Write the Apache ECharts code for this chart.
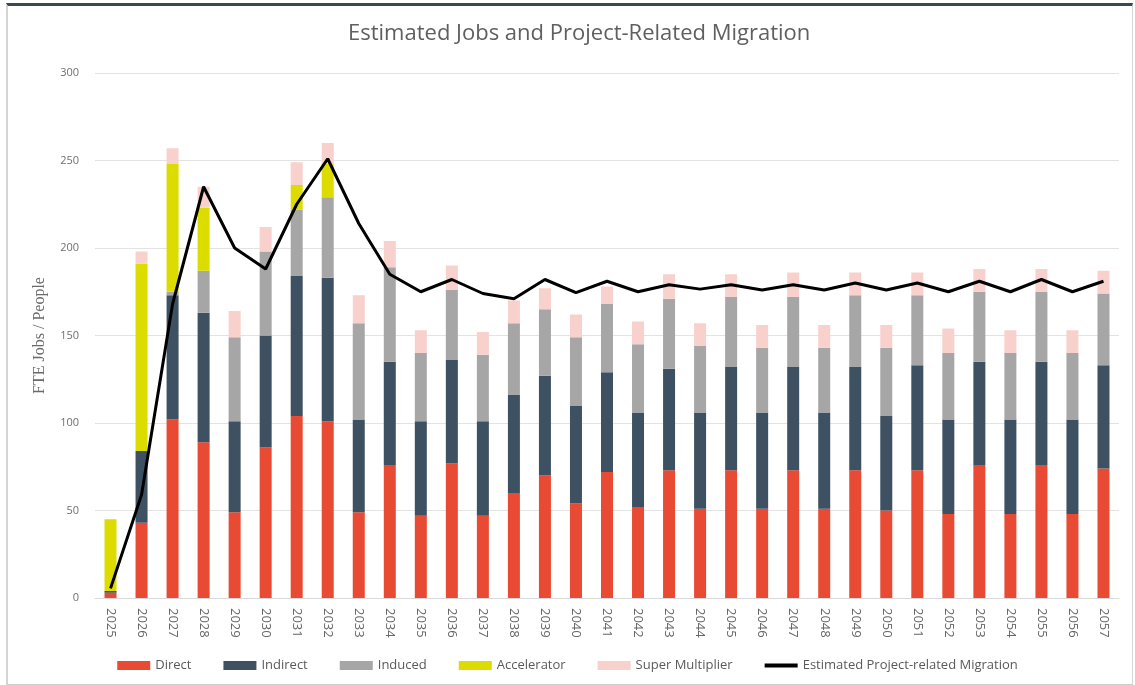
<!DOCTYPE html>
<html>
<head>
<meta charset="utf-8">
<script src="https://cdn.jsdelivr.net/npm/echarts@6/dist/echarts.min.js"></script>
<style>
html, body { margin: 0; padding: 0; background: #fff; }
#frame {
    position: absolute; left: 6px; top: 3px; width: 1124px; height: 678px;
    border-top: 3px solid #3a4856; border-left: 2px solid #d5d5d5;
    border-right: 1px solid #d5d5d5; border-bottom: 2px solid #cfcfcf;
}
#jobsChart { position: absolute; left: 0; top: 0; width: 1135px; height: 685px; }
</style>
</head>
<body>
<div id="frame"></div>
<div id="jobsChart"></div>
<script>
var years = ['2025','2026','2027','2028','2029','2030','2031','2032','2033','2034','2035',
    '2036','2037','2038','2039','2040','2041','2042','2043','2044','2045','2046',
    '2047','2048','2049','2050','2051','2052','2053','2054','2055','2056','2057'];

var direct = [3, 43, 102, 89, 49, 86, 104, 101, 49, 76, 47,
    77, 47, 60, 70, 54, 72, 52, 73, 51, 73, 51,
    73, 51, 73, 50, 73, 48, 76, 48, 76, 48, 74];
var indirect = [1, 41, 71, 74, 52, 64, 80, 82, 53, 59, 54,
    59, 54, 56, 57, 56, 57, 54, 58, 55, 59, 55,
    59, 55, 59, 54, 60, 54, 59, 54, 59, 54, 59];
var induced = [0, 0, 2, 24, 48, 48, 38, 46, 55, 54, 39,
    40, 38, 41, 38, 39, 39, 39, 40, 38, 40, 37,
    40, 37, 41, 39, 40, 38, 40, 38, 40, 38, 41];
var accelerator = [41, 107, 73, 36, 0, 0, 14, 19, 0, 0, 0,
    0, 0, 0, 0, 0, 0, 0, 0, 0, 0, 0,
    0, 0, 0, 0, 0, 0, 0, 0, 0, 0, 0];
var superMultiplier = [0, 7, 9, 12, 15, 14, 13, 12, 16, 15, 13,
    14, 13, 13, 12, 13, 10, 13, 14, 13, 13, 13,
    14, 13, 13, 13, 13, 14, 13, 13, 13, 13, 13];
var migration = [5.5, 59, 168, 235, 200, 188, 225, 251, 214, 185, 175,
    182, 174, 171, 182, 174.5, 181, 175, 179, 176.5, 179, 176,
    179, 176, 180, 176, 180, 175, 181, 175, 182, 175, 181];

var yTicks = [0, 50, 100, 150, 200, 250, 300];

var dom = document.getElementById('jobsChart');
var myChart = echarts.init(dom, null, { renderer: 'canvas' });

function barSeries(name, data, color) {
    return {
        name: name,
        type: 'bar',
        stack: 'jobs',
        data: data,
        barWidth: 12,
        itemStyle: { color: color },
        emphasis: { disabled: true }
    };
}

// thick line icon for the migration legend entry (empty points keep the 33x9 box)
var lineIcon = 'path://M0,0L0.01,0M0,2.5H33V6.5H0ZM0,9L0.01,9';

var option = {
    animation: false,
    textStyle: { fontFamily: 'Open Sans' },
    title: {
        text: 'Estimated Jobs and Project-Related Migration',
        left: 343,
        top: 18,
        textStyle: { fontSize: 22, fontWeight: 'normal', color: '#5f5f5f', fontFamily: 'Open Sans' }
    },
    legend: {
        bottom: 8,
        left: 'center',
        itemWidth: 33,
        itemHeight: 9,
        itemGap: 32,
        textStyle: { fontSize: 13, color: '#5a5a5a' },
        data: [
            { name: 'Direct', icon: 'rect' },
            { name: 'Indirect', icon: 'rect' },
            { name: 'Induced', icon: 'rect' },
            { name: 'Accelerator', icon: 'rect' },
            { name: 'Super Multiplier', icon: 'rect' },
            { name: 'Estimated Project-related Migration', icon: lineIcon }
        ]
    },
    grid: {
        left: 95,
        right: 16,
        top: 73,
        bottom: 87
    },
    xAxis: {
        type: 'category',
        data: years,
        axisLine: { show: true, lineStyle: { color: '#d9d9d9' } },
        axisTick: { show: false },
        axisLabel: { rotate: -90, fontSize: 13, color: '#666', margin: 10 }
    },
    yAxis: {
        type: 'value',
        min: yTicks[0],
        max: yTicks[yTicks.length - 1],
        interval: 50,
        name: 'FTE Jobs / People',
        nameLocation: 'middle',
        nameGap: 47,
        nameTextStyle: { fontFamily: 'Liberation Serif', fontSize: 16, color: '#6a6a6a' },
        axisLine: { show: false },
        axisTick: { show: false },
        axisLabel: { fontSize: 11, color: '#6f6f6f', margin: 16 },
        splitLine: { lineStyle: { color: '#e3e3e3', width: 1 } }
    },
    series: [
        barSeries('Direct', direct, '#e84a33'),
        barSeries('Indirect', indirect, '#3e5163'),
        barSeries('Induced', induced, '#a6a6a6'),
        barSeries('Accelerator', accelerator, '#dcdc00'),
        barSeries('Super Multiplier', superMultiplier, '#f8d0cc'),
        {
            name: 'Estimated Project-related Migration',
            type: 'line',
            data: migration,
            symbol: 'none',
            lineStyle: { color: '#000', width: 3 },
            itemStyle: { color: '#000' },
            z: 5
        }
    ]
};

myChart.setOption(option, true);
window.addEventListener('resize', function () { myChart.resize(); });
</script>
</body>
</html>
